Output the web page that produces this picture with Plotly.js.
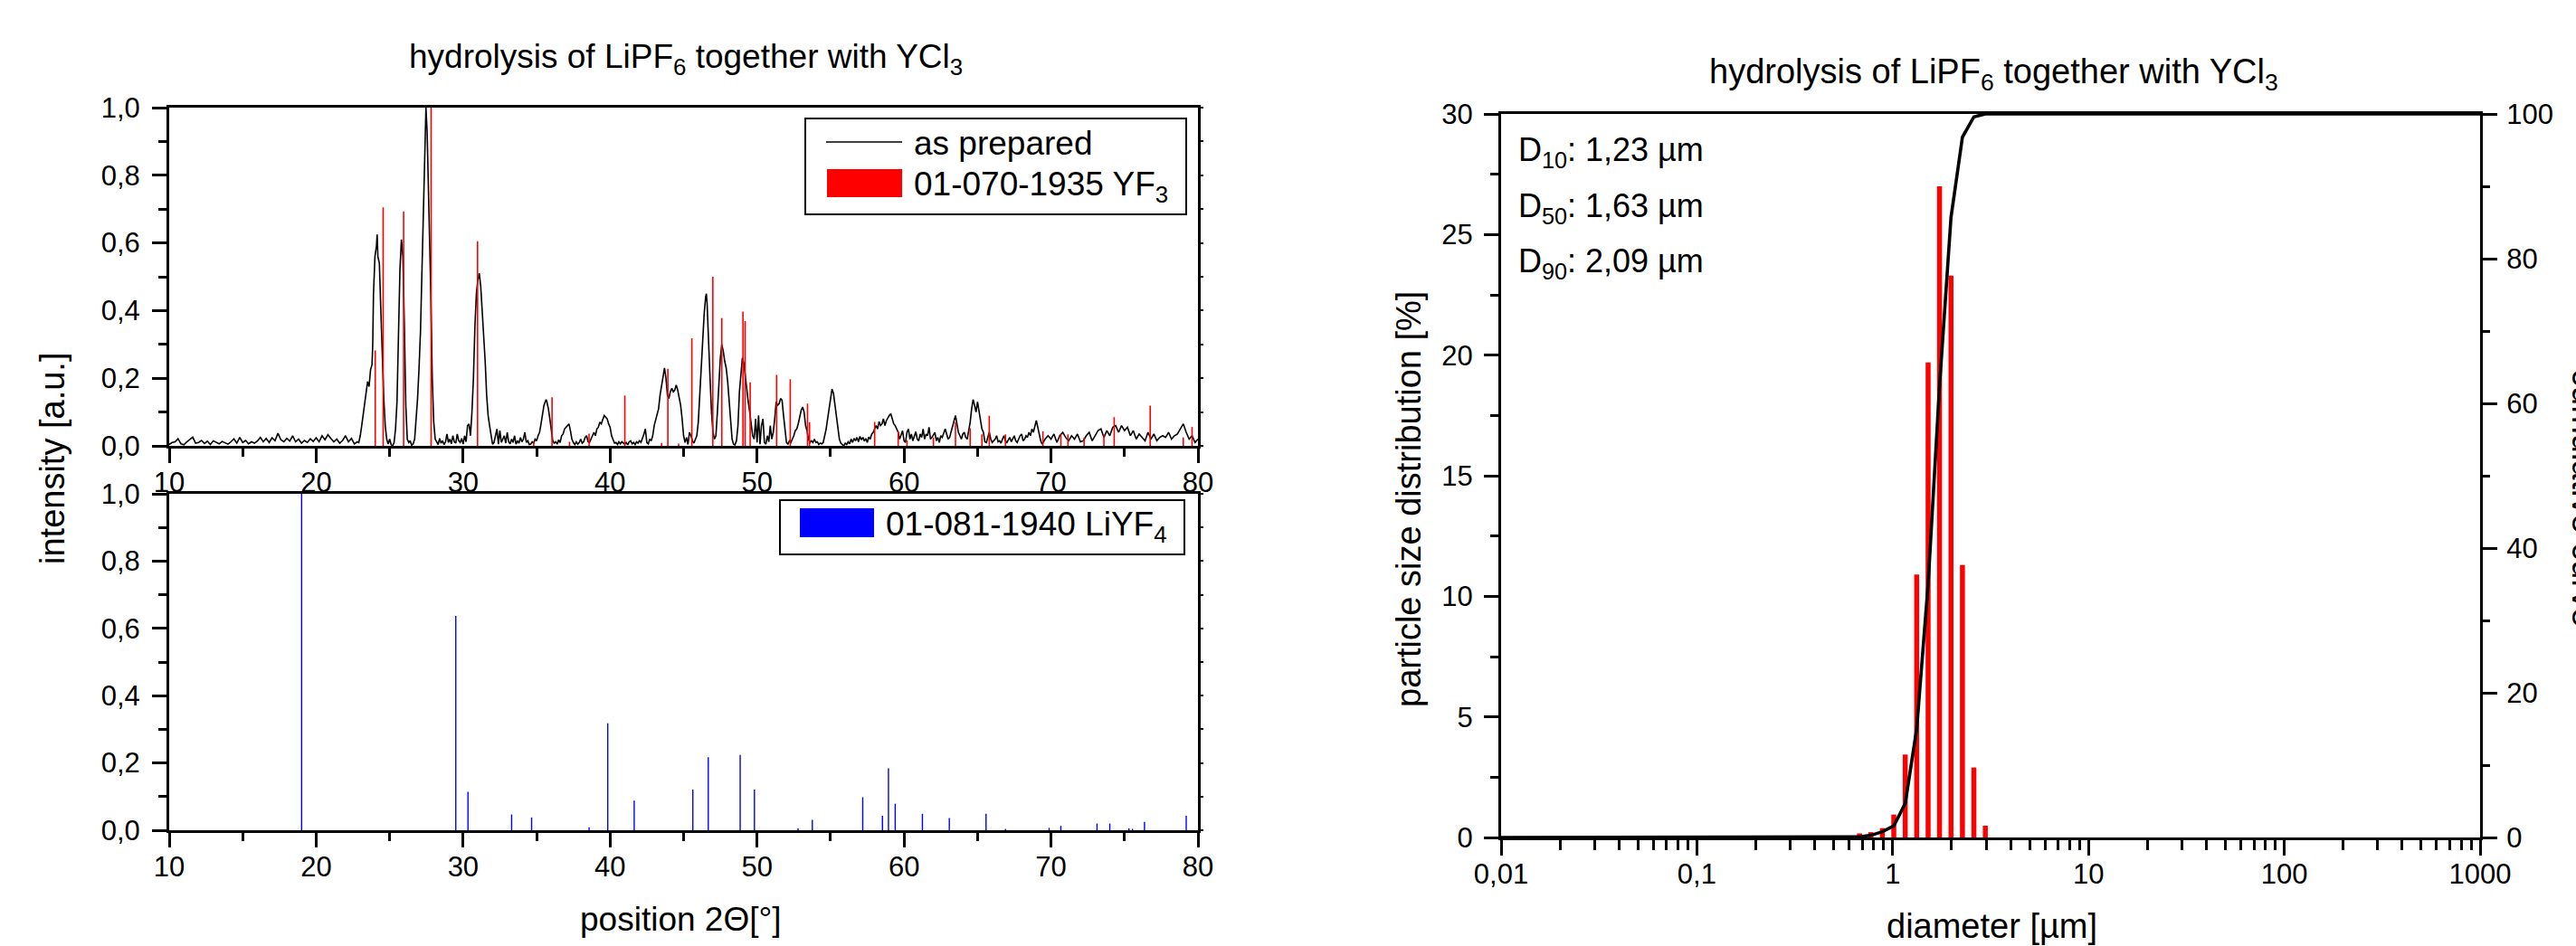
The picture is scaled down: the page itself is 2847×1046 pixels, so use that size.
<!DOCTYPE html>
<html>
<head>
<meta charset="utf-8">
<script src="https://cdn.plot.ly/plotly-3.0.1.min.js"></script>
<style>
html,body{margin:0;padding:0;background:#fff;}
#chart{width:2847px;height:1046px;}
</style>
</head>
<body>
<div id="chart"></div>
<script>
// ---------------- DATA ----------------
// XRD pattern "as prepared" (2theta in degrees, normalised intensity)
const xrdAngle = [
10.0,10.2,10.4,10.6,10.8,11.0,11.2,11.4,11.6,11.8,
12.0,12.2,12.4,12.6,12.8,13.0,13.2,13.4,13.6,13.8,
14.0,14.2,14.4,14.6,14.8,15.0,15.2,15.4,15.6,15.8,
16.0,16.2,16.4,16.6,16.8,17.0,17.2,17.4,17.6,17.8,
18.0,18.2,18.4,18.6,18.8,19.0,19.2,19.4,19.6,19.8,
20.0,20.2,20.4,20.6,20.8,21.0,21.2,21.4,21.6,21.8,
22.0,22.2,22.4,22.6,22.8,
22.9,23.0,23.1,23.2,23.3,23.4,23.5,23.6,23.7,23.8,
23.85,23.9,24.0,24.1,24.15,24.2,24.3,24.4,24.5,24.6,
24.7,24.8,24.9,25.0,25.1,25.2,25.3,25.4,25.5,25.6,
25.7,25.8,25.9,26.0,26.1,26.2,26.3,26.4,26.5,26.6,
26.7,26.8,26.9,27.0,27.1,27.2,27.3,27.4,27.47,27.55,
27.6,27.7,27.8,27.9,28.0,28.1,28.2,
28.3,28.4,28.5,28.6,28.7,28.8,28.9,29.0,29.1,29.2,
29.3,29.4,29.5,29.6,29.7,29.8,29.9,30.0,30.1,30.2,
30.3,30.4,30.5,30.6,
30.7,30.8,30.9,31.0,31.1,31.2,31.3,31.4,31.5,31.6,
31.7,31.8,31.9,32.0,
32.1,32.2,32.3,32.4,32.5,32.6,32.7,32.8,32.9,33.0,
33.1,33.2,33.3,33.4,33.5,33.6,33.7,33.8,33.9,34.0,
34.1,34.2,34.3,34.4,34.5,34.6,34.7,34.8,34.9,35.0,
35.1,
35.2,35.3,35.4,35.5,35.6,35.65,35.7,35.8,35.9,36.0,36.1,36.2,
36.3,36.4,36.5,36.6,36.7,36.8,36.9,37.0,37.1,37.2,
37.3,37.4,37.5,37.6,37.7,37.8,37.9,38.0,38.1,38.2,
38.3,38.4,38.5,38.6,38.7,38.8,38.9,
39.0,39.1,39.2,39.3,39.4,39.5,39.6,39.7,39.8,39.9,40.0,40.1,40.2,40.3,
40.4,40.5,40.6,40.7,40.8,40.9,41.0,41.1,41.2,41.3,
41.4,41.5,41.6,41.7,41.8,41.9,42.0,42.1,42.2,42.3,
42.4,42.5,42.6,42.7,42.8,42.9,43.0,
43.1,43.2,43.3,43.4,43.5,43.6,43.7,43.8,43.9,44.0,
44.1,44.2,44.3,44.4,44.5,44.6,44.7,44.8,44.9,45.0,45.1,
45.2,45.3,45.4,45.5,45.6,45.7,45.8,45.9,
46.0,46.1,46.2,46.3,46.4,46.5,46.55,46.6,46.7,46.8,
46.9,47.0,47.1,47.2,47.3,47.4,47.5,47.6,47.7,47.8,
47.9,48.0,48.1,48.2,48.3,48.4,48.5,48.6,48.7,48.8,
48.9,49.0,49.1,49.2,49.3,49.4,49.5,49.6,49.7,49.8,
49.9,50.0,50.1,50.2,50.3,50.4,50.5,50.6,50.7,50.8,
50.9,51.0,51.1,51.2,51.3,51.4,51.5,51.6,51.7,51.8,
51.9,52.0,52.1,52.2,52.3,52.4,52.5,52.6,
52.7,52.8,52.9,53.0,53.1,53.2,53.3,53.4,53.5,53.6,
53.7,53.8,53.9,54.0,54.1,54.2,54.3,54.4,54.5,54.6,
54.7,54.8,54.9,55.0,55.1,55.2,55.3,55.4,55.5,55.6,55.7,55.8,
55.9,56.0,56.1,56.2,56.3,56.4,56.5,56.6,56.7,56.8,
56.9,57.0,57.1,57.2,57.3,57.4,57.5,57.6,57.7,57.8,57.9,
58.0,58.1,58.2,58.3,58.4,58.5,58.6,58.7,58.8,58.9,
59.0,59.1,59.2,59.3,59.4,59.5,59.6,59.7,59.8,
59.9,60.0,60.1,60.2,60.3,60.4,60.5,60.6,60.7,60.8,
60.9,61.0,61.1,61.2,61.3,61.4,61.5,61.6,61.7,61.8,
61.9,62.0,62.1,62.2,62.3,62.4,62.5,62.6,62.7,62.8,
62.9,63.0,63.1,63.2,63.3,63.4,63.5,63.6,63.7,63.8,
63.9,64.0,64.1,64.2,64.3,64.4,
64.5,64.6,64.7,64.8,64.9,65.0,65.1,65.2,65.3,65.4,65.5,
65.6,65.7,65.8,65.9,66.0,66.1,66.2,66.3,66.4,66.5,
66.6,66.7,66.8,66.9,67.0,67.1,67.2,67.3,67.4,67.5,
67.6,67.7,67.8,67.9,68.0,68.1,68.2,68.3,68.4,68.5,
68.6,68.7,68.8,68.9,69.0,69.1,69.2,69.3,69.4,
69.6,69.8,70.0,70.2,70.4,70.6,70.8,71.0,71.2,71.4,
71.6,71.8,72.0,72.2,72.4,72.6,72.8,73.0,73.2,73.4,
73.6,73.8,74.0,74.2,74.4,74.6,74.8,75.0,75.2,75.4,
75.6,75.8,76.0,76.2,76.4,76.6,76.8,77.0,77.2,77.4,
77.6,77.8,78.0,78.2,78.4,78.6,78.8,79.0,79.2,79.4,
79.6,79.8,80.0
];
const xrdIntensity = [
0.004,0.010,0.012,0.021,0.006,0.003,0.012,0.020,0.026,0.008,
0.010,0.016,0.007,0.014,0.004,0.015,0.011,0.006,0.013,0.009,
0.005,0.012,0.021,0.008,0.025,0.010,0.016,0.006,0.012,0.008,
0.014,0.025,0.012,0.022,0.010,0.024,0.015,0.037,0.018,0.012,
0.022,0.014,0.030,0.012,0.020,0.008,0.016,0.010,0.021,0.013,
0.024,0.012,0.030,0.018,0.033,0.022,0.012,0.020,0.008,0.016,
0.030,0.012,0.022,0.006,0.012,
0.010,0.030,0.060,0.095,0.120,0.165,0.190,0.175,0.225,0.240,
0.300,0.450,0.560,0.590,0.625,0.560,0.540,0.400,0.260,0.140,
0.060,0.020,0.005,0.020,0.004,0.000,0.010,0.050,0.130,0.350,
0.520,0.610,0.560,0.360,0.120,0.020,0.010,0.015,0.002,0.006,
0.020,0.080,0.140,0.230,0.340,0.520,0.720,0.930,1.000,0.930,
0.840,0.650,0.450,0.200,0.070,0.020,0.010,
0.004,0.022,0.008,0.015,0.004,0.012,0.035,0.010,0.020,0.006,
0.030,0.012,0.008,0.035,0.015,0.010,0.022,0.005,0.030,0.012,
0.060,0.065,0.030,0.100,
0.200,0.350,0.450,0.490,0.510,0.470,0.400,0.330,0.250,0.150,
0.090,0.060,0.030,0.005,
0.010,0.030,0.050,0.005,0.045,0.010,0.020,0.030,0.008,0.040,
0.012,0.006,0.020,0.010,0.030,0.005,0.015,0.008,0.025,0.012,
0.020,0.040,0.010,0.015,0.004,0.005,0.012,0.008,0.020,0.015,
0.030,
0.040,0.065,0.090,0.120,0.132,0.137,0.130,0.110,0.080,0.040,0.015,0.008,
0.012,0.005,0.018,0.010,0.030,0.035,0.050,0.055,0.060,0.065,
0.045,0.020,0.010,0.004,0.012,0.005,0.010,0.020,0.008,0.012,
0.025,0.030,0.012,0.010,0.020,0.030,0.040,
0.030,0.050,0.055,0.070,0.065,0.080,0.090,0.085,0.080,0.065,0.055,0.030,0.020,0.008,
0.010,0.004,0.012,0.006,0.012,0.008,0.005,0.010,0.003,0.012,
0.015,0.006,0.010,0.004,0.012,0.008,0.015,0.010,0.020,0.035,
0.050,0.010,0.006,0.020,0.015,0.030,0.060,
0.075,0.090,0.110,0.150,0.180,0.210,0.230,0.200,0.150,0.140,
0.160,0.170,0.160,0.165,0.180,0.165,0.140,0.120,0.080,0.030,0.010,
0.025,0.004,0.040,0.030,0.015,0.008,0.020,0.030,
0.070,0.150,0.240,0.310,0.390,0.440,0.450,0.420,0.330,0.200,
0.100,0.040,0.020,0.030,0.100,0.180,0.260,0.300,0.280,0.250,
0.230,0.190,0.130,0.080,0.020,0.005,0.003,0.015,0.060,0.160,
0.220,0.260,0.245,0.200,0.160,0.130,0.100,0.060,0.030,0.020,
0.080,0.010,0.090,0.005,0.060,0.080,0.010,0.005,0.030,0.012,
0.060,0.020,0.040,0.080,0.130,0.120,0.125,0.140,0.135,0.090,
0.040,0.010,0.005,0.015,0.010,0.020,0.030,0.045,
0.050,0.065,0.090,0.105,0.115,0.100,0.060,0.045,0.020,0.010,
0.015,0.010,0.020,0.010,0.012,0.004,0.008,0.006,0.010,0.030,
0.050,0.080,0.110,0.150,0.168,0.155,0.120,0.080,0.050,0.020,0.008,0.003,
0.000,0.008,0.004,0.012,0.006,0.020,0.010,0.022,0.015,0.025,
0.012,0.028,0.018,0.025,0.014,0.022,0.010,0.026,0.020,0.035,0.040,
0.050,0.060,0.050,0.072,0.060,0.065,0.080,0.060,0.075,0.085,
0.090,0.095,0.080,0.065,0.060,0.050,0.040,0.020,0.030,
0.045,0.015,0.010,0.040,0.050,0.020,0.035,0.015,0.030,0.042,
0.020,0.015,0.035,0.025,0.050,0.020,0.035,0.030,0.055,0.020,
0.025,0.035,0.040,0.015,0.025,0.010,0.030,0.025,0.040,0.050,
0.035,0.020,0.025,0.040,0.060,0.075,0.090,0.065,0.040,0.030,
0.020,0.035,0.040,0.025,0.020,0.045,
0.070,0.110,0.137,0.120,0.100,0.130,0.100,0.070,0.050,0.040,0.012,
0.010,0.025,0.040,0.020,0.010,0.015,0.020,0.030,0.012,0.015,
0.008,0.020,0.030,0.015,0.010,0.018,0.025,0.012,0.020,0.030,
0.015,0.010,0.020,0.030,0.035,0.015,0.020,0.030,0.025,0.040,
0.030,0.050,0.040,0.060,0.075,0.055,0.030,0.015,0.005,
0.020,0.030,0.020,0.035,0.010,0.030,0.040,0.025,0.015,0.030,
0.020,0.035,0.012,0.015,0.030,0.040,0.015,0.030,0.045,0.050,
0.025,0.045,0.030,0.055,0.060,0.040,0.060,0.045,0.055,0.030,
0.045,0.020,0.035,0.025,0.015,0.040,0.020,0.035,0.015,0.025,
0.030,0.025,0.040,0.020,0.030,0.035,0.050,0.065,0.040,0.020,
0.030,0.010,0.020
];

// Reference pattern 01-070-1935 YF3
const yf3Angle = [24.02,24.56,25.95,27.82,30.98,34.8,36.05,37.24,38.57,41.0,43.5,43.93,44.66,45.56,46.99,47.6,49.04,49.19,49.53,51.33,52.26,53.43,53.57,58.0,59.6,60.2,62.0,63.5,64.5,65.3,65.8,66.9,69.45,70.67,71.15,72.25,73.6,74.3,76.75,79.0,79.6];
const yf3Intensity = [0.282,0.705,0.693,1.0,0.605,0.013,0.144,0.012,0.036,0.149,0.009,0.228,0.007,0.318,0.50,0.378,0.397,0.369,0.188,0.21,0.197,0.125,0.07,0.071,0.043,0.016,0.025,0.07,0.052,0.034,0.089,0.034,0.043,0.036,0.034,0.025,0.034,0.085,0.119,0.025,0.056];

// Reference pattern 01-081-1940 LiYF4
const liyf4Angle = [19.01,29.5,30.33,33.3,34.66,38.57,39.84,41.64,45.63,46.68,48.85,49.82,52.79,53.76,57.19,58.53,58.94,59.4,61.25,63.08,65.58,66.9,69.87,70.67,73.13,74.0,75.3,75.55,76.36,79.2];
const liyf4Intensity = [1.0,0.637,0.114,0.047,0.038,0.009,0.318,0.088,0.121,0.217,0.224,0.121,0.006,0.031,0.098,0.043,0.184,0.079,0.049,0.036,0.049,0.004,0.007,0.013,0.02,0.02,0.006,0.004,0.025,0.043];

// Particle size distribution
const psdDiameter = [0.677,0.774,0.886,1.013,1.159,1.326,1.517,1.735,1.985,2.271,2.598,2.972];
const psdPercent = [0.17,0.22,0.39,0.95,3.44,10.9,19.7,27.0,23.3,11.3,2.9,0.49];
const cumDiameter = [0.01,0.5,0.6,0.677,0.774,0.886,1.013,1.159,1.326,1.517,1.735,1.985,2.271,2.598,2.972,1000];
const cumPercent = [0,0,0,0.1,0.3,0.8,1.6,4.7,15.0,35.0,62.4,85.7,96.8,99.6,100,100];

const logTickVals = [0.01,0.1,1,10,100,1000];
const logTickText = ['0,01','0,1','1','10','100','1000'];
const dLabels = ['D<sub>10</sub>: 1,23 µm','D<sub>50</sub>: 1,63 µm','D<sub>90</sub>: 2,09 µm'];
const titleText = 'hydrolysis of LiPF<sub>6</sub> together with YCl<sub>3</sub>';

// ---------------- HELPERS ----------------
const W = 2847, H = 1046;
const fx = p => p / W;
const fy = p => 1 - p / H;
const FONT = 'Liberation Sans, Arial, Helvetica, sans-serif';

function sticks(xs, ys) {
  const X = [], Y = [];
  xs.forEach((x, i) => { X.push(x, x, null); Y.push(0, ys[i], null); });
  return {X, Y};
}
const yfS = sticks(yf3Angle, yf3Intensity);
const liS = sticks(liyf4Angle, liyf4Intensity);
const psdS = sticks(psdDiameter, psdPercent);

const minorLog = [];
for (let e = -2; e < 3; e++) for (let m = 2; m <= 9; m++) minorLog.push(m * Math.pow(10, e));

const traces = [
  {x: xrdAngle, y: xrdIntensity, xaxis: 'x', yaxis: 'y', mode: 'lines',
   line: {color: '#000', width: 1.6}, hoverinfo: 'skip'},
  {x: yfS.X, y: yfS.Y, xaxis: 'x', yaxis: 'y', mode: 'lines',
   line: {color: '#ff0000', width: 1.6}, connectgaps: false, hoverinfo: 'skip'},
  {x: liS.X, y: liS.Y, xaxis: 'x2', yaxis: 'y2', mode: 'lines',
   line: {color: '#0000ff', width: 1.4}, connectgaps: false, hoverinfo: 'skip'},
  {x: [], y: [], xaxis: 'x', yaxis: 'y5', mode: 'lines'},
  {x: [], y: [], xaxis: 'x2', yaxis: 'y6', mode: 'lines'},
  {x: psdS.X, y: psdS.Y, xaxis: 'x3', yaxis: 'y3', mode: 'lines',
   line: {color: '#ff0000', width: 5.5}, connectgaps: false, hoverinfo: 'skip'},
  {x: cumDiameter, y: cumPercent, xaxis: 'x3', yaxis: 'y4', mode: 'lines',
   line: {color: '#000', width: 3.6}, hoverinfo: 'skip'}
];

const axBase = {
  showgrid: false, zeroline: false, showline: true, linecolor: '#000', linewidth: 3,
  ticks: 'outside', ticklen: 16, tickwidth: 3, tickcolor: '#000',
  tickfont: {family: FONT, size: 31, color: '#000'}
};
const minorBase = {ticks: 'outside', ticklen: 9, tickwidth: 3, tickcolor: '#000', showgrid: false};

const xLeft = [fx(187), fx(1324)];
const layout = {
  width: W, height: H,
  margin: {l: 0, r: 0, t: 0, b: 0},
  paper_bgcolor: '#fff', plot_bgcolor: 'rgba(0,0,0,0)',
  showlegend: false,
  separators: ', ',
  font: {family: FONT, color: '#000'},
  xaxis: Object.assign({}, axBase, {domain: xLeft, anchor: 'y', range: [10, 80], tick0: 10, dtick: 10,
    mirror: true, ticklabelstandoff: -5, minor: Object.assign({}, minorBase, {tick0: 10, dtick: 5})}),
  yaxis: Object.assign({}, axBase, {domain: [fy(493), fy(119)], anchor: 'x', range: [0, 1], dtick: 0.2,
    tickformat: '.1f', mirror: true, ticklabelstandoff: 7, minor: Object.assign({}, minorBase, {dtick: 0.1})}),
  xaxis2: Object.assign({}, axBase, {domain: xLeft, anchor: 'y2', range: [10, 80], tick0: 10, dtick: 10,
    mirror: true, ticklabelstandoff: -5, minor: Object.assign({}, minorBase, {tick0: 10, dtick: 5})}),
  yaxis2: Object.assign({}, axBase, {domain: [fy(918), fy(546)], anchor: 'x2', range: [0, 1], dtick: 0.2,
    tickformat: '.1f', mirror: true, ticklabelstandoff: 7, minor: Object.assign({}, minorBase, {dtick: 0.1})}),
  yaxis5: {overlaying: 'y', side: 'right', anchor: 'x', range: [0, 1], dtick: 0.1, ticks: 'outside',
    ticklen: 5, tickwidth: 2, tickcolor: '#000', showticklabels: false, showline: false, showgrid: false, zeroline: false},
  yaxis6: {overlaying: 'y2', side: 'right', anchor: 'x2', range: [0, 1], dtick: 0.1, ticks: 'outside',
    ticklen: 5, tickwidth: 2, tickcolor: '#000', showticklabels: false, showline: false, showgrid: false, zeroline: false},
  xaxis3: Object.assign({}, axBase, {type: 'log', domain: [fx(1659), fx(2741)], anchor: 'y3', range: [-2, 3],
    tickmode: 'array', tickvals: logTickVals, ticktext: logTickText, ticklen: 17, mirror: true, ticklabelstandoff: -6,
    minor: Object.assign({}, minorBase, {tickmode: 'array', tickvals: minorLog, ticklen: 11})}),
  yaxis3: Object.assign({}, axBase, {domain: [fy(926), fy(126)], anchor: 'x3', range: [0, 30], dtick: 5,
    tickformat: 'd', ticklabelstandoff: 6, minor: Object.assign({}, minorBase, {dtick: 2.5})}),
  yaxis4: Object.assign({}, axBase, {overlaying: 'y3', side: 'right', anchor: 'x3', range: [0, 100], dtick: 20,
    tickformat: 'd', ticklabelstandoff: 4, minor: Object.assign({}, minorBase, {dtick: 10, ticklen: 8})}),
  shapes: [],
  annotations: []
};

const S = layout.shapes, A = layout.annotations;
function pRect(x0, y0, x1, y1, fill, lineW) {
  S.push({type: 'rect', xref: 'paper', yref: 'paper', x0: fx(x0), x1: fx(x1), y0: fy(y1), y1: fy(y0),
    fillcolor: fill, line: {color: '#000', width: lineW}, layer: 'above'});
}
function pLine(x0, y0, x1, y1, color, w) {
  S.push({type: 'line', xref: 'paper', yref: 'paper', x0: fx(x0), x1: fx(x1), y0: fy(y0), y1: fy(y1),
    line: {color: color, width: w}, layer: 'above'});
}
function txt(text, x, y, size, opts) {
  A.push(Object.assign({text: text, xref: 'paper', yref: 'paper', x: fx(x), y: fy(y), showarrow: false,
    xanchor: 'center', yanchor: 'middle', font: {family: FONT, size: size, color: '#000'}}, opts || {}));
}

// legends (top-left and bottom-left panels)
pRect(890, 131, 1311, 237, '#fff', 2);
pLine(913, 157, 997, 157, '#000', 1.6);
S.push({type: 'rect', xref: 'paper', yref: 'paper', x0: fx(914), x1: fx(997), y0: fy(218), y1: fy(187),
  fillcolor: '#ff0000', line: {width: 0}, layer: 'above'});
txt('as prepared', 1008, 158, 37, {xanchor: 'left'});
txt('01-070-1935 YF<sub>3</sub>', 1008, 206, 37, {xanchor: 'left'});
pRect(862, 553, 1309, 613, '#fff', 2);
S.push({type: 'rect', xref: 'paper', yref: 'paper', x0: fx(884), x1: fx(966), y0: fy(594), y1: fy(562),
  fillcolor: '#0000ff', line: {width: 0}, layer: 'above'});
txt('01-081-1940 LiYF<sub>4</sub>', 977, 582, 37, {xanchor: 'left'});

// titles
txt(titleText, 758, 65, 37);
txt(titleText, 2203, 82, 38);

// axis titles
txt('intensity [a.u.]', 58, 507, 38, {textangle: -90});
txt('position 2Θ[°]', 752, 1016, 37);
txt('particle size distribution [%]', 1557, 552, 38, {textangle: -90});
txt('diameter [µm]', 2201, 1024, 38);
txt('cumulative curve', 2856, 550, 38, {textangle: 90});

// D values
dLabels.forEach((t, i) => txt(t, 1676, [168, 230, 291][i], 36, {xanchor: 'left'}));

Plotly.newPlot('chart', traces, layout, {staticPlot: true, displayModeBar: false});
</script>
</body>
</html>
